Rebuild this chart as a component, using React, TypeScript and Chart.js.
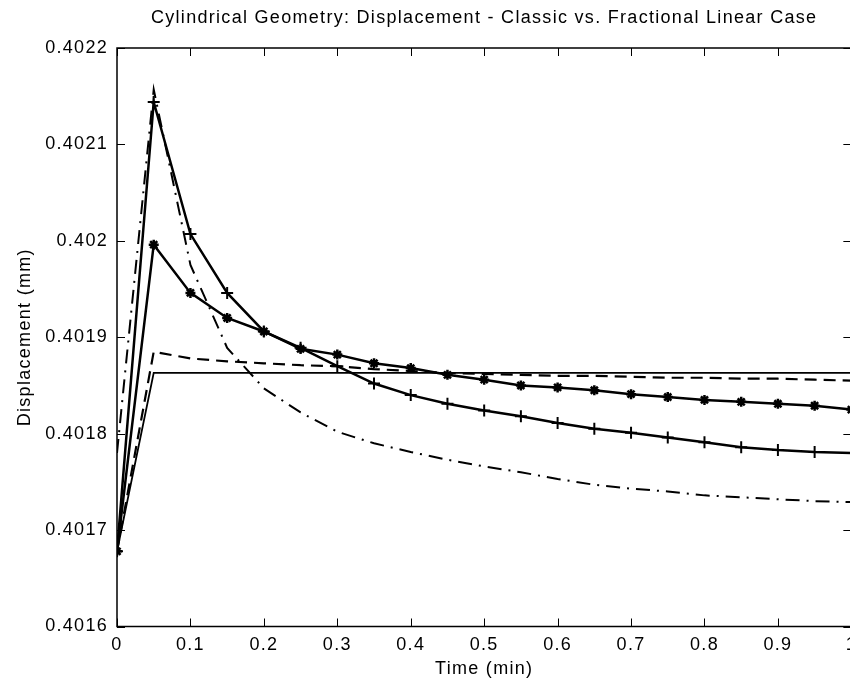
import React, { useEffect, useRef } from "react";
import { Chart, registerables } from "chart.js";

Chart.register(...registerables);

const titleText = "Cylindrical Geometry: Displacement - Classic vs. Fractional Linear Case";
const xTitle = "Time (min)";
const yTitle = "Displacement (mm)";

const time = [0, 0.05, 0.1, 0.15, 0.2, 0.25, 0.3, 0.35, 0.4, 0.45, 0.5, 0.55, 0.6, 0.65, 0.7, 0.75, 0.8, 0.85, 0.9, 0.95, 1];

// solid line with "+" markers
const fracPlus = [0.401678, 0.402144, 0.402007, 0.401946, 0.401906, 0.401889, 0.40187, 0.401852, 0.40184, 0.401831, 0.401824, 0.401818, 0.401811, 0.401805, 0.401801, 0.401796, 0.401791, 0.401786, 0.401783, 0.401781, 0.40178];
// solid line with "*" markers
const fracStar = [0.401678, 0.401996, 0.401946, 0.40192, 0.401906, 0.401888, 0.401882, 0.401873, 0.401868, 0.401861, 0.401856, 0.40185, 0.401848, 0.401845, 0.401841, 0.401838, 0.401835, 0.401833, 0.401831, 0.401829, 0.401825];
// dash-dot line
const fracDashDot = [0.40178, 0.402157, 0.401975, 0.401889, 0.401847, 0.401822, 0.401802, 0.40179, 0.401781, 0.401773, 0.401766, 0.40176, 0.401753, 0.401747, 0.401743, 0.40174, 0.401736, 0.401734, 0.401732, 0.40173, 0.401729];
// plain solid line
const classicSolid = [0.401678, 0.401863, 0.401863, 0.401863, 0.401863, 0.401863, 0.401863, 0.401863, 0.401863, 0.401863, 0.401863, 0.401863, 0.401863, 0.401863, 0.401863, 0.401863, 0.401863, 0.401863, 0.401863, 0.401863, 0.401863];
// dashed line
const classicDashed = [0.401678, 0.401885, 0.401878, 0.401875, 0.401873, 0.401871, 0.40187, 0.401867, 0.401865, 0.401863, 0.401862, 0.401861, 0.40186, 0.40186, 0.401859, 0.401858, 0.401858, 0.401857, 0.401857, 0.401856, 0.401855];

const yMin = 0.4016;
const yMax = 0.4022;
const yStep = 0.0001;
const xMin = 0;
const xMax = 1;
const xStep = 0.1;

const FONT = "'Liberation Sans', Arial, Helvetica, sans-serif";
const FS = 18;
const SPACING = "1.3px";

const toPts = (ys: number[]) => ys.map((y, i) => ({ x: time[i], y }));

const spacingPlugin = {
  id: "letterSpacing",
  beforeUpdate(chart: any) {
    (chart.ctx as any).letterSpacing = SPACING;
  },
  beforeDraw(chart: any) {
    (chart.ctx as any).letterSpacing = SPACING;
  },
};

const boxPlugin = {
  id: "matlabBox",
  afterDraw(chart: any) {
    const { ctx, chartArea } = chart;
    const { left, right, top, bottom } = chartArea;
    const xs = chart.scales.x;
    const ys = chart.scales.y;
    const tl = 8;
    ctx.save();
    ctx.strokeStyle = "#000";
    ctx.lineWidth = 1.5;
    ctx.strokeRect(left, top, right - left, bottom - top);
    ctx.beginPath();
    xs.ticks.forEach((t: any) => {
      const px = Math.round(xs.getPixelForValue(t.value)) + 0.5;
      ctx.moveTo(px, bottom);
      ctx.lineTo(px, bottom - tl);
      ctx.moveTo(px, top);
      ctx.lineTo(px, top + tl);
    });
    ys.ticks.forEach((t: any) => {
      const py = Math.round(ys.getPixelForValue(t.value)) + 0.5;
      ctx.moveTo(left, py);
      ctx.lineTo(left + tl, py);
      ctx.moveTo(right, py);
      ctx.lineTo(right - tl, py);
    });
    ctx.lineWidth = 1;
    ctx.stroke();
    ctx.restore();
  },
};

export default function App() {
  const ref = useRef<HTMLCanvasElement | null>(null);

  useEffect(() => {
    if (!ref.current) return;
    Chart.defaults.font.family = FONT;
    Chart.defaults.color = "#000";
    const chart = new Chart(ref.current, {
      type: "line",
      data: {
        datasets: [
          {
            label: "plus",
            data: toPts(fracPlus),
            borderColor: "#000",
            backgroundColor: "#000",
            borderWidth: 2.5,
            pointStyle: "cross",
            pointRadius: 6,
            pointBorderWidth: 2,
            tension: 0,
          },
          {
            label: "star",
            data: toPts(fracStar),
            borderColor: "#000",
            backgroundColor: "#000",
            borderWidth: 2.5,
            pointStyle: "star",
            pointRadius: 5,
            pointBorderWidth: 2.5,
            tension: 0,
          },
          {
            label: "dashdot",
            data: toPts(fracDashDot),
            borderColor: "#000",
            borderWidth: 2,
            borderDash: [14, 7, 2, 7],
            pointRadius: 0,
            tension: 0,
          },
          {
            label: "solid",
            data: toPts(classicSolid),
            borderColor: "#000",
            borderWidth: 1.8,
            pointRadius: 0,
            tension: 0,
          },
          {
            label: "dashed",
            data: toPts(classicDashed),
            borderColor: "#000",
            borderWidth: 2.2,
            borderDash: [12, 7],
            pointRadius: 0,
            tension: 0,
          },
        ],
      },
      options: {
        animation: false,
        responsive: false,
        devicePixelRatio: 1,
        layout: { padding: { left: 0, right: 9, top: 0, bottom: 0 } },
        plugins: {
          legend: { display: false },
          tooltip: { enabled: false },
          title: {
            display: true,
            text: titleText,
            fullSize: false,
            color: "#000",
            font: { family: FONT, size: FS, weight: "normal", lineHeight: 1.2 },
            padding: { top: 7, bottom: 19.4 },
          },
        },
        scales: {
          x: {
            type: "linear",
            min: xMin,
            max: xMax,
            grid: { display: false, drawTicks: false },
            border: { display: false },
            ticks: {
              stepSize: xStep,
              padding: 8,
              maxRotation: 0,
              autoSkip: false,
              color: "#000",
              font: { family: FONT, size: FS, lineHeight: 1.2 },
              callback: (v: any) => String(Math.round(Number(v) * 10) / 10),
            },
            title: {
              display: true,
              text: xTitle,
              color: "#000",
              font: { family: FONT, size: FS, lineHeight: 1.2 },
              padding: { top: 0, bottom: 10 },
            },
            afterFit: (s: any) => {
              s.height = 63.5;
            },
          },
          y: {
            type: "linear",
            min: yMin,
            max: yMax,
            grid: { display: false, drawTicks: false },
            border: { display: false },
            ticks: {
              stepSize: yStep,
              padding: 9,
              autoSkip: false,
              color: "#000",
              font: { family: FONT, size: FS, lineHeight: 1.2 },
              callback: (v: any) => String(parseFloat(Number(v).toFixed(4))),
            },
            title: {
              display: true,
              text: yTitle,
              color: "#000",
              font: { family: FONT, size: FS, lineHeight: 1.2 },
              padding: { top: 14, bottom: 0 },
            },
            afterFit: (s: any) => {
              s.width = 117;
            },
          },
        },
      },
      plugins: [spacingPlugin, boxPlugin],
    });
    return () => chart.destroy();
  }, []);

  return (
    <div style={{ position: "absolute", left: 0, top: 0, width: 850, height: 690, overflow: "hidden", background: "#fff" }}>
      <canvas ref={ref} width={865} height={690} style={{ width: 865, height: 690, display: "block" }} />
    </div>
  );
}
